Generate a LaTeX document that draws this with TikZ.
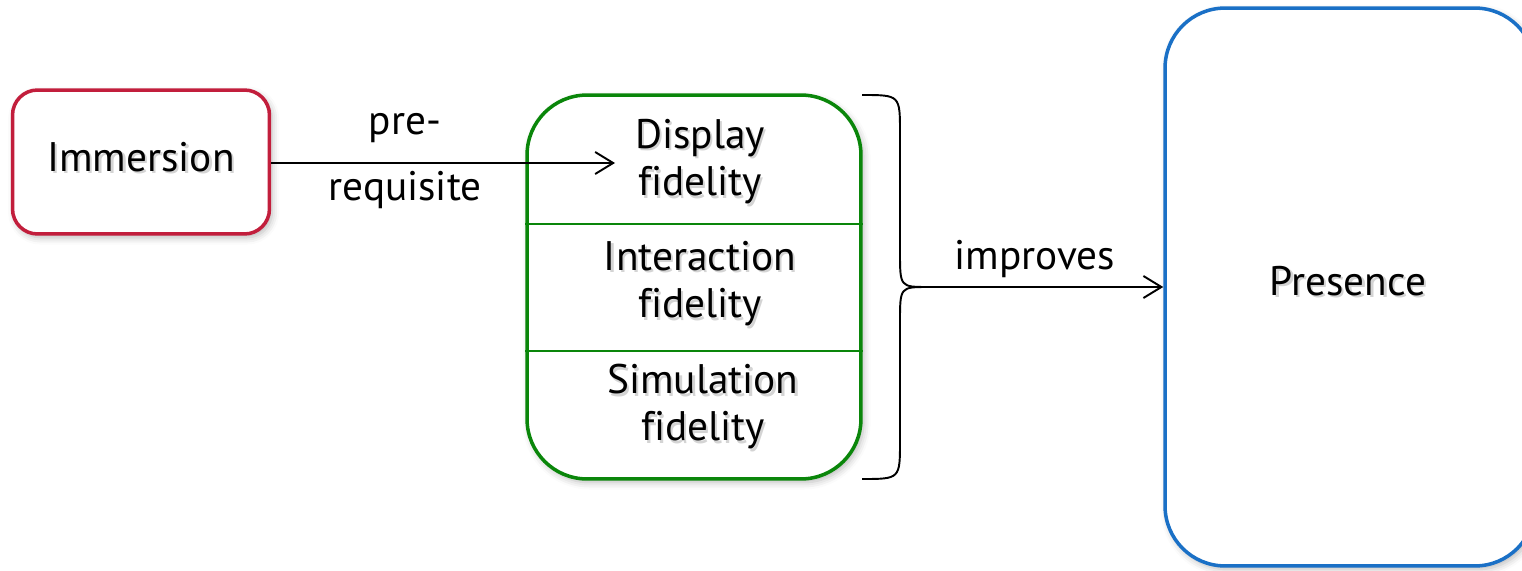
\documentclass[tikz,border=0pt]{standalone}
\usepackage{fontspec}
\setmainfont{PT Sans}[Ligatures=NoCommon]
\usepackage{xcolor}
\usepackage{tikz}
\usetikzlibrary{arrows.meta,shadows.blur}

\definecolor{immred}{HTML}{C21E3C}
\definecolor{fidgreen}{HTML}{0A860A}
\definecolor{presblue}{HTML}{1A70C6}

% text with a soft grey drop shadow
\newcommand{\shtxt}[1]{\leavevmode\rlap{\kern1.3pt\raisebox{-1.5pt}{\color{black!17}#1}}#1}

\begin{document}
\begin{tikzpicture}[x=0.02cm,y=-0.02cm,
    font=\fontsize{23.5}{27}\selectfont,
    boxshade/.style={blur shadow={shadow xshift=1.5pt,shadow yshift=-2pt,
        shadow blur radius=4pt,shadow opacity=28}},
    roundbox/.style={draw,fill=white,line width=2pt,boxshade},
    link/.style={line width=1.1pt,-{Straight Barb[length=3.6mm,width=4.4mm,line width=1.1pt]}},
    lbl/.style={align=center,inner sep=0pt}]
  \useasboundingbox (0,0) rectangle (1522,571);

  \node[roundbox,draw=immred,rounded corners=0.5cm,
    minimum width=5.14cm,minimum height=2.88cm] (imm) at (141,162) {};
  \node[lbl] (immtxt) at (141,158) {\shtxt{Immersion}};

  \node[roundbox,draw=fidgreen,rounded corners=1.2cm,
    minimum width=6.68cm,minimum height=7.68cm] (fid) at (694,287) {};
  \draw[fidgreen,line width=1.2pt] (fid.west |- 0,224) -- (fid.east |- 0,224);
  \draw[fidgreen,line width=1.2pt] (fid.west |- 0,351) -- (fid.east |- 0,351);
  \node[lbl] (disp) at (700,163) {\shtxt{Display}\\\shtxt{fidelity}};
  \node[lbl] (inter) at (700,285) {\shtxt{Interaction}\\\shtxt{fidelity}};
  \node[lbl] (simu) at (703,408) {\shtxt{Simulation}\\\shtxt{fidelity}};

  \node[roundbox,draw=presblue,rounded corners=1.2cm,
    minimum width=7.4cm,minimum height=11.16cm] (pres) at (1350,287) {};
  \node[lbl] (prestxt) at (1348,282) {\shtxt{Presence}};

  \coordinate (prq) at (615,163);
  \draw[link] (imm.east |- prq) -- (prq);
  \node[lbl] (pre) at (405,128) {pre-};
  \node[lbl] (req) at (405,190) {requisite};

  % brace round the three fidelities
  \coordinate (tip) at (928,287);
  \draw[line width=1.1pt] (862,95) .. controls (900,95) .. (900,133) -- (900,252)
    .. controls (900,287) .. (tip) .. controls (900,287) .. (900,322) -- (900,441)
    .. controls (900,479) .. (862,479);
  \draw[link] (tip) -- (pres.west |- tip);
  \node[lbl] (impr) at (1035,259) {improves};
\end{tikzpicture}
\end{document}
